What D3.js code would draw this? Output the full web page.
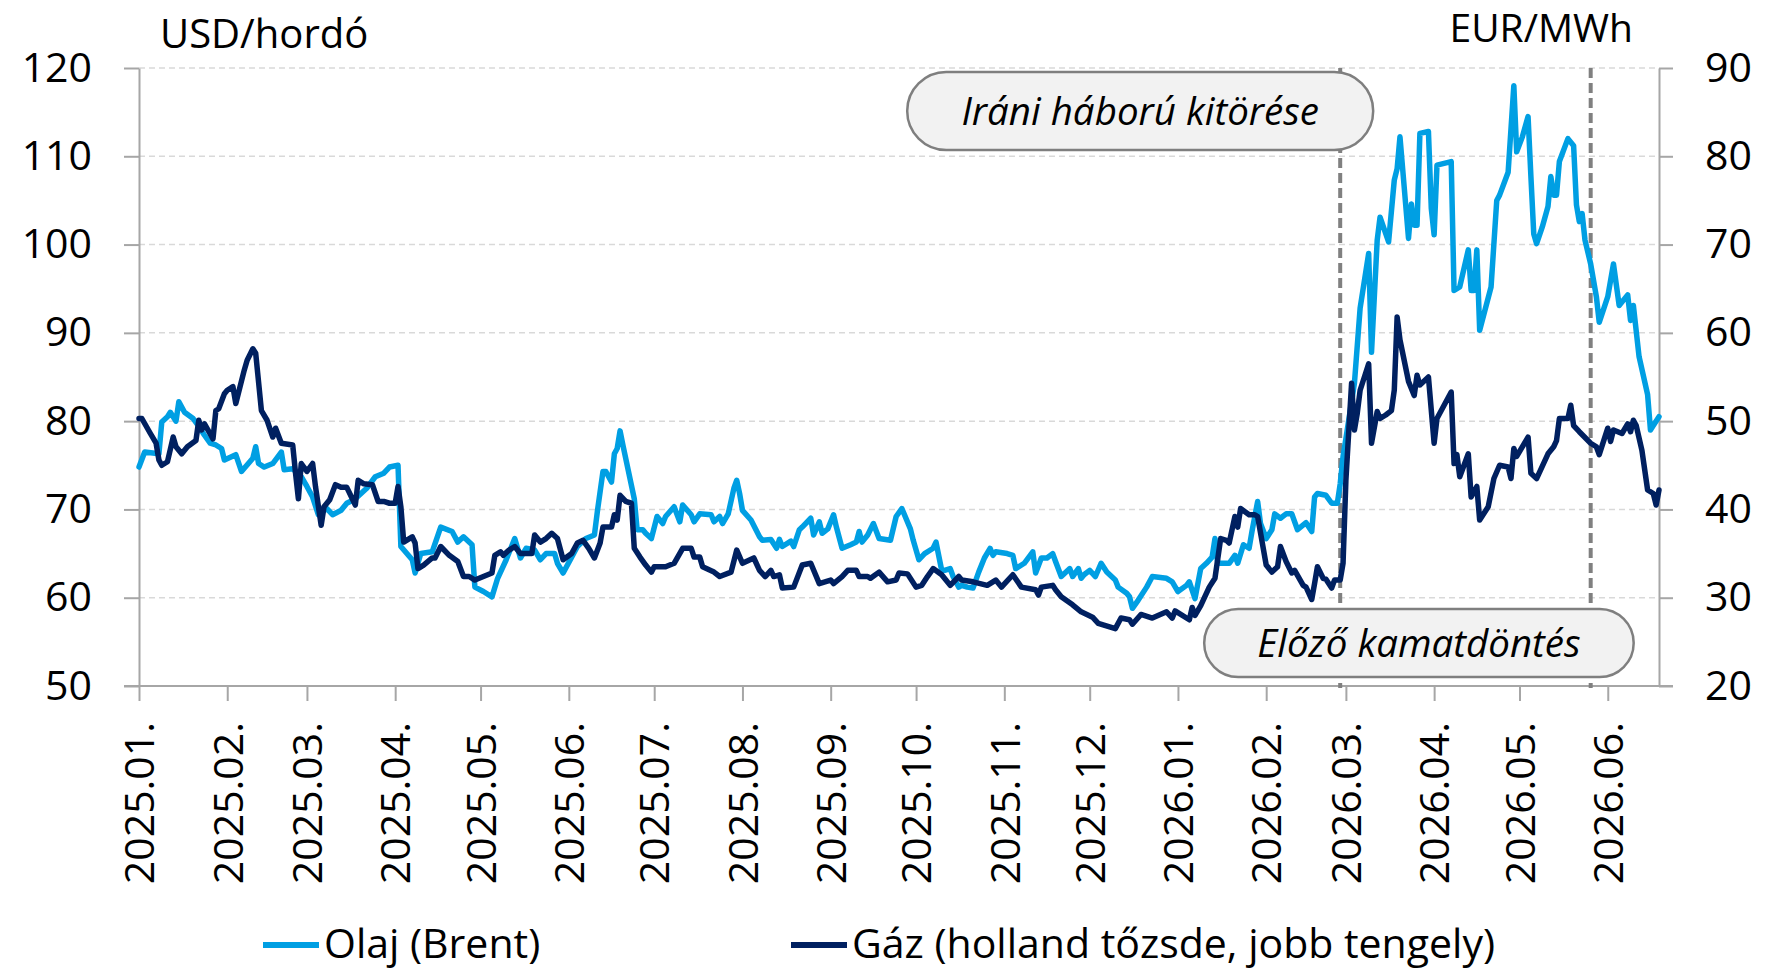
<!DOCTYPE html>
<html>
<head>
<meta charset="utf-8">
<script src="https://cdn.jsdelivr.net/npm/d3@7"></script>
<style>
body { margin: 0; background: #fff; }
text { font-family: "Open Sans", "DejaVu Sans", sans-serif; fill: #000; }
.grid line { stroke: #d9d9d9; stroke-width: 1.5; stroke-dasharray: 6,4; }
.axis path, .axis line { stroke: #a6a6a6; stroke-width: 2; }
.axis text { font-size: 41px; }
.line { fill: none; stroke-width: 5.5; stroke-linejoin: round; stroke-linecap: round; }
.event { stroke: #808080; stroke-width: 4; stroke-dasharray: 10,5; }
.box rect { fill: #f2f2f2; stroke: #7f7f7f; stroke-width: 2.5; }
.box text { font-size: 38.5px; font-style: italic; text-anchor: middle; }
</style>
</head>
<body>
<svg width="1777" height="970"></svg>
<script>
// oil (Brent, USD/hordó) - left axis
var oilDates = [
"2025-01-01","2025-01-03","2025-01-08","2025-01-09","2025-01-11","2025-01-12","2025-01-14","2025-01-15","2025-01-17","2025-01-20",
"2025-01-22","2025-01-24","2025-01-26","2025-01-28","2025-01-30","2025-01-31","2025-02-04","2025-02-06","2025-02-10","2025-02-11",
"2025-02-12","2025-02-14","2025-02-17","2025-02-20","2025-02-21","2025-02-24","2025-02-27","2025-03-01","2025-03-03","2025-03-05",
"2025-03-08","2025-03-10","2025-03-13","2025-03-15","2025-03-18","2025-03-22","2025-03-25","2025-03-28","2025-03-30","2025-04-02",
"2025-04-03","2025-04-07","2025-04-08","2025-04-10","2025-04-14","2025-04-17","2025-04-21","2025-04-23","2025-04-25","2025-04-28",
"2025-04-29","2025-05-02","2025-05-05","2025-05-07","2025-05-10","2025-05-13","2025-05-15","2025-05-17","2025-05-20","2025-05-22",
"2025-05-24","2025-05-27","2025-05-28","2025-05-30","2025-06-02","2025-06-04","2025-06-07","2025-06-10","2025-06-11","2025-06-13",
"2025-06-14","2025-06-16","2025-06-17","2025-06-18","2025-06-19","2025-06-20","2025-06-24","2025-06-25","2025-06-27","2025-06-28",
"2025-06-30","2025-07-02","2025-07-04","2025-07-05","2025-07-08","2025-07-10","2025-07-11","2025-07-14","2025-07-15","2025-07-17",
"2025-07-21","2025-07-22","2025-07-24","2025-07-25","2025-07-27","2025-07-29","2025-07-30","2025-07-31","2025-08-01","2025-08-04",
"2025-08-07","2025-08-08","2025-08-11","2025-08-13","2025-08-14","2025-08-15","2025-08-18","2025-08-19","2025-08-21","2025-08-22",
"2025-08-25","2025-08-26","2025-08-28","2025-08-29","2025-08-31","2025-09-02","2025-09-03","2025-09-05","2025-09-08","2025-09-10",
"2025-09-11","2025-09-12","2025-09-14","2025-09-16","2025-09-18","2025-09-22","2025-09-24","2025-09-26","2025-09-29","2025-09-30",
"2025-10-02","2025-10-04","2025-10-07","2025-10-08","2025-10-10","2025-10-11","2025-10-13","2025-10-14","2025-10-16","2025-10-17",
"2025-10-19","2025-10-21","2025-10-23","2025-10-25","2025-10-27","2025-10-28","2025-10-29","2025-11-02","2025-11-04","2025-11-05",
"2025-11-08","2025-11-11","2025-11-12","2025-11-14","2025-11-16","2025-11-18","2025-11-19","2025-11-21","2025-11-24","2025-11-25",
"2025-11-27","2025-11-28","2025-11-29","2025-12-01","2025-12-03","2025-12-05","2025-12-07","2025-12-10","2025-12-11","2025-12-14",
"2025-12-15","2025-12-16","2025-12-18","2025-12-21","2025-12-23","2025-12-28","2025-12-30","2026-01-01","2026-01-04","2026-01-05",
"2026-01-07","2026-01-09","2026-01-11","2026-01-13","2026-01-14","2026-01-15","2026-01-19","2026-01-21","2026-01-22","2026-01-24",
"2026-01-26","2026-01-27","2026-01-29","2026-01-30","2026-02-01","2026-02-03","2026-02-04","2026-02-06","2026-02-08","2026-02-10",
"2026-02-12","2026-02-15","2026-02-17","2026-02-18","2026-02-19","2026-02-22","2026-02-24","2026-02-26","2026-02-27","2026-02-28",
"2026-03-01","2026-03-04","2026-03-06","2026-03-09","2026-03-10","2026-03-12","2026-03-13","2026-03-16","2026-03-18","2026-03-19",
"2026-03-20","2026-03-23","2026-03-24","2026-03-25","2026-03-26","2026-03-27","2026-03-30","2026-03-31","2026-04-01","2026-04-02",
"2026-04-07","2026-04-08","2026-04-10","2026-04-13","2026-04-14","2026-04-15","2026-04-16","2026-04-17","2026-04-21","2026-04-23",
"2026-04-24","2026-04-27","2026-04-29","2026-04-30","2026-05-02","2026-05-04","2026-05-05","2026-05-06","2026-05-07","2026-05-09",
"2026-05-11","2026-05-12","2026-05-13","2026-05-14","2026-05-15","2026-05-18","2026-05-20","2026-05-21","2026-05-22","2026-05-23",
"2026-05-24","2026-05-26","2026-05-28","2026-05-29","2026-06-01","2026-06-03","2026-06-05","2026-06-08","2026-06-09","2026-06-10",
"2026-06-12","2026-06-15","2026-06-16","2026-06-17","2026-06-19"];
var oilValues = [
74.8,76.5,76.3,79.9,80.5,81,80,82.2,81,80.3,
79.4,78.4,77.5,77.3,76.9,75.6,76.2,74.3,75.8,77.1,
75.2,74.8,75.2,76.5,74.5,74.6,73.7,72.6,71.4,69.4,
70.1,69.4,69.9,70.7,71.2,72.4,73.7,74.1,74.8,75,
65.8,64.3,62.8,65,65.2,68,67.5,66.3,66.9,66,
61.2,60.7,60.1,62.2,64.3,66.7,64.5,65.6,65.4,64.3,
65,65,63.9,62.8,64.6,65.8,66.7,67.1,69.7,74.3,
74.3,73.1,76.3,76.9,78.9,77.3,71.2,67.7,67.7,67.3,
66.7,69.2,68.4,69.2,70.3,68.6,70.5,69.4,68.6,69.5,
69.4,68.6,69.2,68.4,69.5,72.4,73.3,71.8,69.9,68.8,
66.9,66.5,66.6,65.6,66.6,65.8,66.4,65.8,67.7,68,
69,67.1,68.6,67.3,67.8,69.4,68,65.6,66,66.3,
67.5,66.3,67.1,68.4,66.7,66.5,69.2,70.1,67.8,66.5,
64.3,65,65.6,66.3,63.1,63.1,63.3,62.4,61.2,61.4,
61.2,61.1,62.9,64.5,65.6,64.8,65.2,65,64.8,63.3,
63.9,65.2,62.8,64.5,64.5,65,64.1,62.4,63.3,62.4,
63.3,62.2,62.6,63.1,62.4,63.9,62.9,62,61.2,60.5,
60.1,58.8,59.7,61.2,62.4,62.2,61.8,60.7,61.4,61.8,
59.9,63.3,63.9,64.6,66.7,63.9,63.9,64.8,63.9,66,
65.6,67.5,70.9,68.4,66.7,67.7,69.5,69,69.5,69.5,
67.7,68.5,67.5,71.4,71.8,71.6,70.7,70.7,72.9,76,
78,84.3,92.8,99,87.8,100.5,103.1,100.3,107.3,108.6,
112.2,100.7,104.6,102.2,102.2,112.6,112.8,104.1,101.1,109,
109.4,94.8,95.2,99.4,94.8,94.8,99.4,90.3,95.2,105,
105.6,108.2,118,110.5,112.2,114.5,107.7,101.2,100.1,102,
104.3,107.7,105.6,105.6,109.4,112,111.2,104.5,102.6,103.5,
100.5,97.8,94.1,91.2,94.1,97.8,93.1,94.3,91.4,93.1,
87.3,83,79,79.5,80.5];

// gas (Dutch TTF, EUR/MWh) - right axis
var gasDates = [
"2025-01-01","2025-01-02","2025-01-05","2025-01-07","2025-01-08","2025-01-09","2025-01-11","2025-01-13","2025-01-14","2025-01-16",
"2025-01-18","2025-01-21","2025-01-22","2025-01-23","2025-01-24","2025-01-27","2025-01-28","2025-01-29","2025-01-31","2025-02-01",
"2025-02-03","2025-02-04","2025-02-07","2025-02-08","2025-02-10","2025-02-11","2025-02-13","2025-02-15","2025-02-17","2025-02-18",
"2025-02-20","2025-02-24","2025-02-25","2025-02-26","2025-02-27","2025-03-01","2025-03-03","2025-03-04","2025-03-06","2025-03-07",
"2025-03-09","2025-03-11","2025-03-13","2025-03-15","2025-03-18","2025-03-19","2025-03-21","2025-03-24","2025-03-26","2025-03-28",
"2025-03-30","2025-04-01","2025-04-02","2025-04-03","2025-04-04","2025-04-07","2025-04-08","2025-04-09","2025-04-11","2025-04-14",
"2025-04-15","2025-04-17","2025-04-20","2025-04-23","2025-04-25","2025-04-27","2025-04-29","2025-05-02","2025-05-05","2025-05-06",
"2025-05-08","2025-05-09","2025-05-11","2025-05-13","2025-05-15","2025-05-19","2025-05-20","2025-05-22","2025-05-24","2025-05-26",
"2025-05-28","2025-05-30","2025-06-02","2025-06-04","2025-06-06","2025-06-08","2025-06-10","2025-06-12","2025-06-13","2025-06-16",
"2025-06-17","2025-06-18","2025-06-19","2025-06-21","2025-06-23","2025-06-24","2025-06-26","2025-06-28","2025-06-30","2025-07-01",
"2025-07-05","2025-07-08","2025-07-11","2025-07-12","2025-07-14","2025-07-15","2025-07-17","2025-07-18","2025-07-22","2025-07-24",
"2025-07-28","2025-07-30","2025-08-01","2025-08-05","2025-08-07","2025-08-09","2025-08-11","2025-08-12","2025-08-14","2025-08-15",
"2025-08-19","2025-08-22","2025-08-25","2025-08-28","2025-09-01","2025-09-02","2025-09-05","2025-09-07","2025-09-10","2025-09-11",
"2025-09-14","2025-09-15","2025-09-18","2025-09-21","2025-09-24","2025-09-25","2025-09-28","2025-10-01","2025-10-03","2025-10-05",
"2025-10-07","2025-10-10","2025-10-13","2025-10-16","2025-10-17","2025-10-21","2025-10-26","2025-10-29","2025-10-31","2025-11-04",
"2025-11-07","2025-11-12","2025-11-13","2025-11-14","2025-11-18","2025-11-19","2025-11-21","2025-11-25","2025-11-28","2025-12-02",
"2025-12-04","2025-12-08","2025-12-10","2025-12-12","2025-12-15","2025-12-16","2025-12-19","2025-12-23","2025-12-28","2025-12-30",
"2025-12-31","2026-01-05","2026-01-06","2026-01-07","2026-01-09","2026-01-12","2026-01-14","2026-01-16","2026-01-18","2026-01-19",
"2026-01-21","2026-01-22","2026-01-23","2026-01-26","2026-01-28","2026-01-29","2026-02-01","2026-02-03","2026-02-05","2026-02-06",
"2026-02-08","2026-02-10","2026-02-11","2026-02-14","2026-02-15","2026-02-17","2026-02-18","2026-02-19","2026-02-21","2026-02-22",
"2026-02-24","2026-02-25","2026-02-27","2026-02-28","2026-03-01","2026-03-03","2026-03-04","2026-03-05","2026-03-06","2026-03-09",
"2026-03-10","2026-03-12","2026-03-13","2026-03-15","2026-03-17","2026-03-18","2026-03-19","2026-03-20","2026-03-23","2026-03-25",
"2026-03-26","2026-03-27","2026-03-30","2026-04-01","2026-04-02","2026-04-07","2026-04-08","2026-04-09","2026-04-10","2026-04-13",
"2026-04-14","2026-04-16","2026-04-17","2026-04-20","2026-04-22","2026-04-24","2026-04-27","2026-04-28","2026-04-29","2026-04-30",
"2026-05-04","2026-05-05","2026-05-07","2026-05-11","2026-05-13","2026-05-14","2026-05-15","2026-05-18","2026-05-19","2026-05-20",
"2026-05-22","2026-05-26","2026-05-28","2026-05-29","2026-06-01","2026-06-02","2026-06-03","2026-06-06","2026-06-08","2026-06-09",
"2026-06-10","2026-06-11","2026-06-13","2026-06-15","2026-06-17","2026-06-18","2026-06-19"];
var gasValues = [
50.3,50.3,48.6,47.5,45.6,45,45.4,48.2,47.1,46.3,
47.1,47.8,50.1,49,49.7,48,51.2,51.4,53.1,53.5,
53.9,52,55.8,56.9,58.2,57.7,51.2,50.1,48.2,49.2,
47.5,47.3,44.1,41.2,45.2,44.3,45.2,42.6,38.2,40.3,
41.1,42.8,42.5,42.5,40.5,43.3,42.9,42.8,40.9,40.9,
40.7,40.7,42.6,40.3,36.3,36.9,36.2,33.3,33.7,34.5,
34.5,35.8,34.8,34.1,32.4,32.4,32,32.4,32.8,34.8,
35.2,34.8,35.4,35.8,35,35,37.1,36.3,36.7,37.3,
36.7,34.3,35,36.2,36.5,35.6,34.5,36.2,38,38,
39.4,38.8,41.6,40.9,40.7,35.6,34.6,33.7,32.9,33.5,
33.5,33.9,35.6,35.6,35.6,34.6,34.6,33.5,32.9,32.4,
32.9,35.4,33.9,34.5,33.1,32.4,33.1,32.4,32.6,31.1,
31.2,33.7,33.9,31.6,32,31.6,32.4,33.1,33.1,32.4,
32.4,32.2,32.9,31.8,32,32.8,32.7,31.2,31.4,32.4,
33.3,32.6,31.4,32.4,32,31.8,31.4,32,31.2,32.6,
31.2,30.9,30.3,31.2,31.4,30.9,30.1,29.2,28.4,27.8,
27.1,26.7,26.5,27.7,27.5,27,28.1,27.7,28.4,27.7,
28.5,27.5,28.9,28,29.1,31.2,32.2,36.7,36.5,36.2,
39.2,38,40.1,39.4,39.4,39.2,33.7,32.9,33.5,35.8,
34.1,32.8,33.1,31.4,31.2,29.8,31.6,33.5,32.2,32.1,
31.1,32,32,33.9,43.3,54.3,49,50.9,53.5,56.5,
47.5,51.1,50.3,50.7,51.2,53.5,61.8,59.2,54.5,52.9,
55.2,54.1,55,47.5,50.3,53.3,45.2,46.2,43.7,46.3,
41.4,42.6,38.8,40.3,43.5,45,44.8,43.5,46.9,46,
48.2,44.1,43.5,46.3,47.1,47.8,50.3,50.3,51.8,49.5,
48.8,47.5,47.1,46.2,49.2,47.7,49,48.6,49.7,48.8,
50.1,49.5,46.7,42.2,41.8,40.5,42.2];

var leftTicks = [50, 60, 70, 80, 90, 100, 110, 120];
var rightTicks = [20, 30, 40, 50, 60, 70, 80, 90];
var startDate = "2025-01-01", endDate = "2026-06-19";
var warDate = "2026-02-27", decisionDate = "2026-05-26";
var warLabel = "Iráni háború kitörése";
var decisionLabel = "Előző kamatdöntés";
var seriesNames = ["Olaj (Brent)", "Gáz (holland tőzsde, jobb tengely)"];
var seriesColors = ["#009fe3", "#002060"];

var svg = d3.select("svg"),
margin = {top: 68, right: 118, bottom: 284, left: 139},
width = +svg.attr("width") - margin.left - margin.right,
height = +svg.attr("height") - margin.top - margin.bottom;

var parseDate = d3.timeParse("%Y-%m-%d");

var oil = oilDates.map(function(d, i) { return {date: parseDate(d), value: oilValues[i]}; });
var gas = gasDates.map(function(d, i) { return {date: parseDate(d), value: gasValues[i]}; });

var x = d3.scaleTime().domain([parseDate(startDate), parseDate(endDate)]).range([0, width]),
yL = d3.scaleLinear().domain([50, 120]).range([height, 0]),
yR = d3.scaleLinear().domain([20, 90]).range([height, 0]);

var g = svg.append("g")
  .attr("transform", "translate(" + margin.left + "," + margin.top + ")");

// dashed gridlines
g.append("g")
  .attr("class", "grid")
  .selectAll("line")
  .data(leftTicks.slice(1))
  .enter().append("line")
    .attr("x1", 0)
    .attr("x2", width)
    .attr("y1", function(d) { return yL(d); })
    .attr("y2", function(d) { return yL(d); });

// month ticks
var months = d3.timeMonth.range(parseDate(startDate), d3.timeDay.offset(parseDate(endDate), 1));

var xAxis = g.append("g")
  .attr("class", "axis axis--x")
  .attr("transform", "translate(0," + height + ")")
  .call(d3.axisBottom(x).tickValues(months).tickSize(15).tickFormat(d3.timeFormat("%Y.%m.")));
xAxis.select(".domain").remove();
xAxis.append("line")
  .attr("x1", -15).attr("x2", width + 14)
  .attr("y1", 0).attr("y2", 0);
xAxis.selectAll("text")
  .attr("transform", "rotate(-90)")
  .attr("x", -36)
  .attr("y", 0)
  .attr("dy", "0.36em")
  .style("text-anchor", "end");

// left axis
g.append("g")
  .attr("class", "axis axis--y")
  .call(d3.axisLeft(yL).tickValues(leftTicks).tickSize(15).tickSizeOuter(0).tickPadding(32));

// right axis
g.append("g")
  .attr("class", "axis axis--z")
  .attr("transform", "translate(" + width + ",0)")
  .call(d3.axisRight(yR).tickValues(rightTicks).tickSize(14).tickSizeOuter(0).tickPadding(32));

svg.selectAll(".axis text").attr("font-family", null);

// event lines
g.selectAll(".event")
  .data([warDate, decisionDate])
  .enter().append("line")
    .attr("class", "event")
    .attr("x1", function(d) { return x(parseDate(d)); })
    .attr("x2", function(d) { return x(parseDate(d)); })
    .attr("y1", 0)
    .attr("y2", height + 2);

// lines
var oilLine = d3.line()
    .x(function(d) { return x(d.date); })
    .y(function(d) { return yL(d.value); });

var gasLine = d3.line()
    .x(function(d) { return x(d.date); })
    .y(function(d) { return yR(d.value); });

g.append("path")
    .attr("class", "line")
    .attr("stroke", seriesColors[0])
    .attr("d", oilLine(oil));

g.append("path")
    .attr("class", "line")
    .attr("stroke", seriesColors[1])
    .attr("d", gasLine(gas));

// annotation boxes
var xw = x(parseDate(warDate)), xd = x(parseDate(decisionDate));

var box1 = g.append("g").attr("class", "box");
box1.append("rect")
  .attr("x", xw - 433).attr("y", 4)
  .attr("width", 466).attr("height", 78)
  .attr("rx", 39).attr("ry", 39);
box1.append("text")
  .attr("x", xw - 200).attr("y", 57)
  .text(warLabel);

var box2 = g.append("g").attr("class", "box");
box2.append("rect")
  .attr("x", xw - 136).attr("y", 541)
  .attr("width", xd + 43 - (xw - 136)).attr("height", 68)
  .attr("rx", 34).attr("ry", 34);
box2.append("text")
  .attr("x", (xw - 136 + xd + 43) / 2).attr("y", 589)
  .text(decisionLabel);

// unit titles
svg.append("text")
  .attr("x", 160).attr("y", 48)
  .style("font-size", "40px")
  .text("USD/hordó");

svg.append("text")
  .attr("x", 1633).attr("y", 42)
  .style("font-size", "39px")
  .style("text-anchor", "end")
  .text("EUR/MWh");

// legend
var legend = svg.append("g");
var legendX = [263, 791];
seriesNames.forEach(function(name, i) {
  legend.append("line")
    .attr("x1", legendX[i]).attr("x2", legendX[i] + 56)
    .attr("y1", 945).attr("y2", 945)
    .attr("stroke", seriesColors[i])
    .attr("stroke-width", 6);
  legend.append("text")
    .attr("x", legendX[i] + 61).attr("y", 958)
    .style("font-size", "41px")
    .text(name);
});
</script>
</body>
</html>
